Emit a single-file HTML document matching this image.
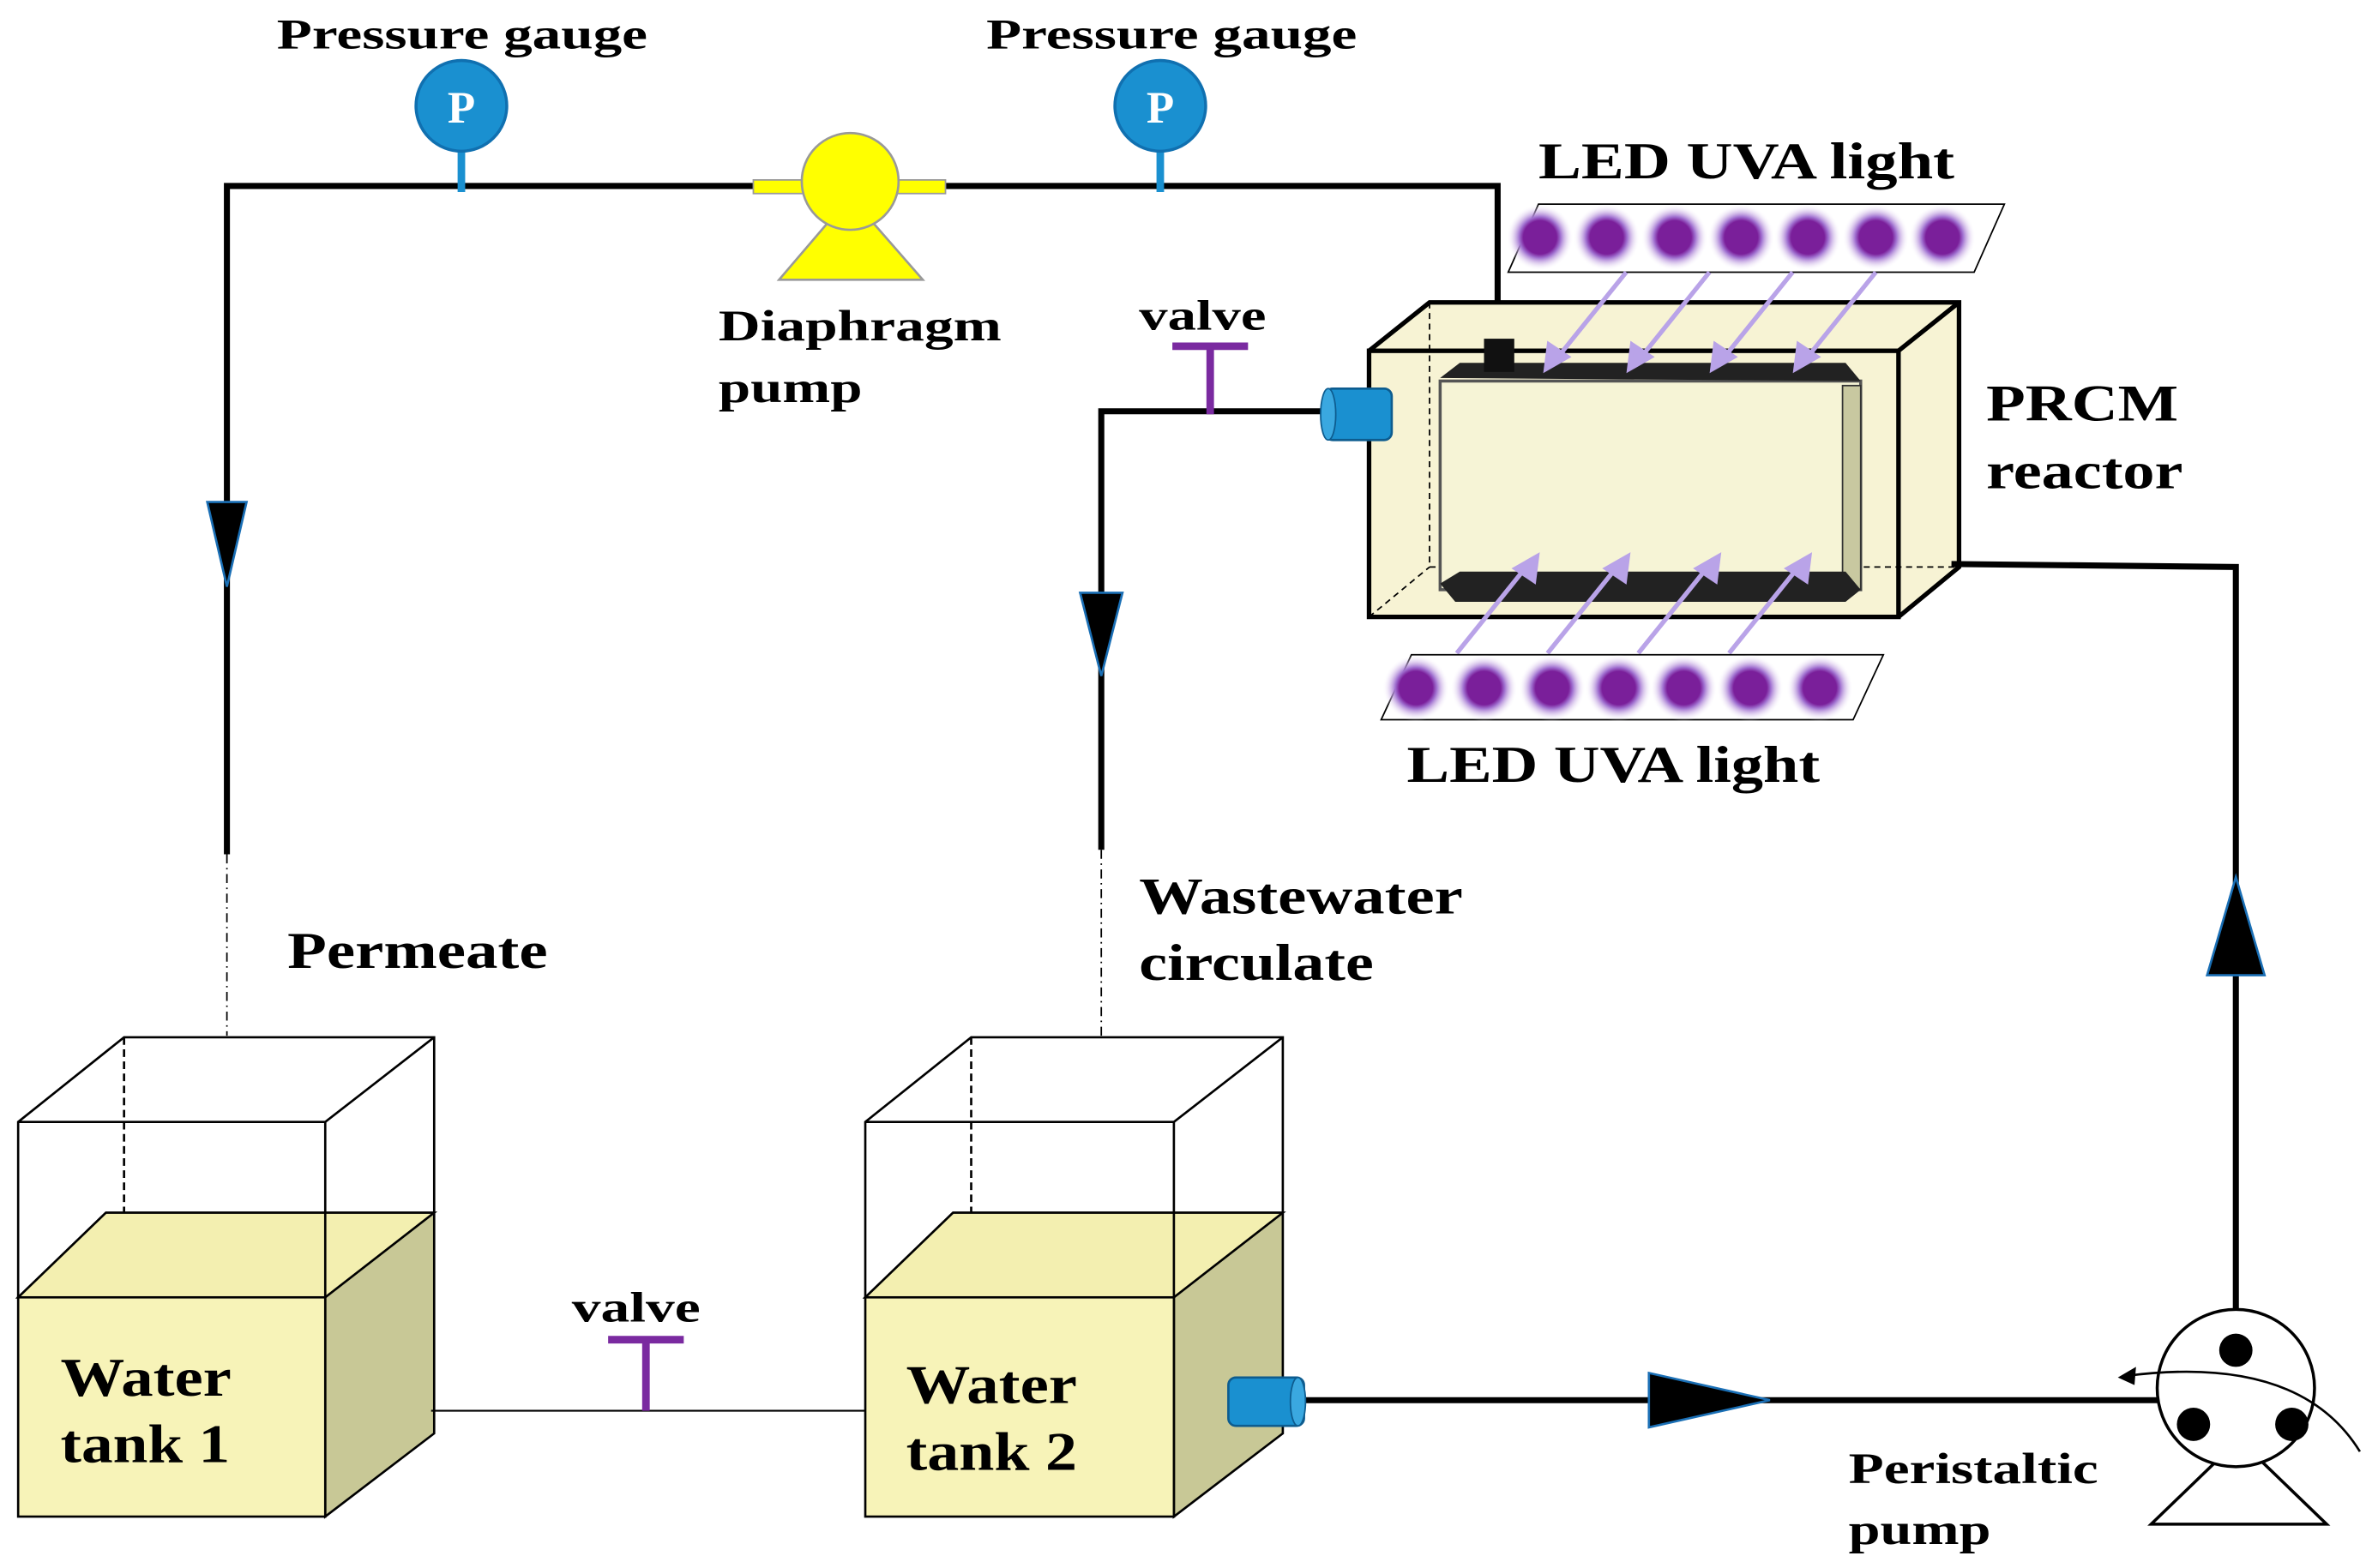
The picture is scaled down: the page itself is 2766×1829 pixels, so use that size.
<!DOCTYPE html>
<html><head><meta charset="utf-8"><style>
html,body{margin:0;padding:0;background:#fff;}
svg{display:block;}
text{font-family:"Liberation Serif",serif;font-weight:bold;fill:#000;}
</style></head><body>
<svg width="2766" height="1829" viewBox="0 0 1568 1037" preserveAspectRatio="none" xmlns="http://www.w3.org/2000/svg">
<defs>
<radialGradient id="led"><stop offset="0.5" stop-color="#7a1f9a"/><stop offset="0.62" stop-color="#a070d0"/><stop offset="1" stop-color="#fff" stop-opacity="0"/></radialGradient>
</defs>
<polyline points="150,565 150,123 990,123 990,228" fill="none" stroke="#000" stroke-width="4"/>
<line x1="150" y1="565" x2="150" y2="685" stroke="#000" stroke-width="1" stroke-dasharray="6,3,1,3"/>
<polygon points="137,332 163,332 150,388" fill="#000" stroke="#1a6fb5" stroke-width="1.5"/>
<g>
<line x1="305" y1="95" x2="305" y2="127" stroke="#1a90d0" stroke-width="5"/>
<circle cx="305" cy="70" r="30" fill="#1a90d0" stroke="#1070b0" stroke-width="2"/>
<text x="305" y="81" font-size="30" text-anchor="middle" style="fill:#fff">P</text>
<line x1="767" y1="95" x2="767" y2="127" stroke="#1a90d0" stroke-width="5"/>
<circle cx="767" cy="70" r="30" fill="#1a90d0" stroke="#1070b0" stroke-width="2"/>
<text x="767" y="81" font-size="30" text-anchor="middle" style="fill:#fff">P</text>
</g>
<text x="183" y="32" font-size="28" textLength="245" lengthAdjust="spacingAndGlyphs">Pressure gauge</text>
<text x="652" y="32" font-size="28" textLength="245" lengthAdjust="spacingAndGlyphs">Pressure gauge</text>
<polygon points="515,185 610,185 562,130" fill="#ffff00" stroke="#999" stroke-width="1.5"/>
<rect x="498" y="119" width="127" height="9" fill="#ffff00" stroke="#999" stroke-width="1"/>
<circle cx="562" cy="120" r="32" fill="#ffff00" stroke="#999" stroke-width="1.5"/>
<text x="475" y="225" font-size="29" textLength="187" lengthAdjust="spacingAndGlyphs">Diaphragm</text>
<text x="475" y="266" font-size="29" textLength="95" lengthAdjust="spacingAndGlyphs">pump</text>
<polygon points="997,180 1017,135 1325,135 1305,180" fill="#fff" stroke="#000" stroke-width="1"/>
<g fill="url(#led)">
<circle cx="1018" cy="157" r="22"/><circle cx="1062" cy="157" r="22"/><circle cx="1107" cy="157" r="22"/><circle cx="1151" cy="157" r="22"/><circle cx="1195" cy="157" r="22"/><circle cx="1240" cy="157" r="22"/><circle cx="1284" cy="157" r="22"/>
</g>
<text x="1017" y="118" font-size="34" textLength="275" lengthAdjust="spacingAndGlyphs">LED UVA light</text>
<polygon points="905,232 945,200 1295,200 1295,375 1255,408 905,408" fill="#f7f3d4"/>
<polyline points="905,232 945,200 1295,200 1295,375 1255,408" fill="none" stroke="#000" stroke-width="3"/>
<line x1="1255" y1="232" x2="1295" y2="200" stroke="#000" stroke-width="3"/>
<line x1="945" y1="200" x2="945" y2="375" stroke="#000" stroke-width="1" stroke-dasharray="4,3"/>
<line x1="945" y1="375" x2="1295" y2="375" stroke="#000" stroke-width="1" stroke-dasharray="4,3"/>
<line x1="905" y1="408" x2="945" y2="375" stroke="#000" stroke-width="1" stroke-dasharray="4,3"/>
<rect x="905" y="232" width="350" height="176" fill="none" stroke="#000" stroke-width="3"/>
<rect x="952" y="252" width="278" height="138" fill="#f6f4d6" stroke="#555" stroke-width="2"/>
<polygon points="1218,255 1230,255 1230,390 1218,385" fill="#c8c8a0" stroke="#333" stroke-width="1"/>
<polygon points="952,250 965,240 1220,240 1230,252" fill="#222"/>
<polygon points="952,386 965,378 1220,378 1230,390 1220,398 962,398" fill="#222"/>
<rect x="981" y="224" width="20" height="22" fill="#111"/>
<g stroke="#b9a3e8" stroke-width="3" fill="#b9a3e8">
<line x1="1075" y1="180" x2="1030" y2="236"/><polygon points="1022,244 1024,228 1036,236"/>
<line x1="1130" y1="180" x2="1085" y2="236"/><polygon points="1077,244 1079,228 1091,236"/>
<line x1="1185" y1="180" x2="1140" y2="236"/><polygon points="1132,244 1134,228 1146,236"/>
<line x1="1240" y1="180" x2="1195" y2="236"/><polygon points="1187,244 1189,228 1201,236"/>
<line x1="963" y1="432" x2="1008" y2="376"/><polygon points="1016,368 1014,384 1002,376"/>
<line x1="1023" y1="432" x2="1068" y2="376"/><polygon points="1076,368 1074,384 1062,376"/>
<line x1="1083" y1="432" x2="1128" y2="376"/><polygon points="1136,368 1134,384 1122,376"/>
<line x1="1143" y1="432" x2="1188" y2="376"/><polygon points="1196,368 1194,384 1182,376"/>
</g>
<text x="1313" y="278" font-size="34" textLength="127" lengthAdjust="spacingAndGlyphs">PRCM</text>
<text x="1313" y="323" font-size="34" textLength="130" lengthAdjust="spacingAndGlyphs">reactor</text>
<polygon points="913,476 933,433 1245,433 1225,476" fill="#fff" stroke="#000" stroke-width="1"/>
<g fill="url(#led)">
<circle cx="936" cy="455" r="22"/><circle cx="981" cy="455" r="22"/><circle cx="1026" cy="455" r="22"/><circle cx="1070" cy="455" r="22"/><circle cx="1113" cy="455" r="22"/><circle cx="1157" cy="455" r="22"/><circle cx="1203" cy="455" r="22"/>
</g>
<text x="930" y="517" font-size="34" textLength="273" lengthAdjust="spacingAndGlyphs">LED UVA light</text>
<polyline points="728,562 728,272 880,272" fill="none" stroke="#000" stroke-width="4"/>
<line x1="728" y1="562" x2="728" y2="685" stroke="#000" stroke-width="1" stroke-dasharray="6,3,1,3"/>
<polygon points="714,392 742,392 728,447" fill="#000" stroke="#1a6fb5" stroke-width="1.5"/>
<line x1="775" y1="229" x2="825" y2="229" stroke="#7a2aa0" stroke-width="5"/>
<line x1="800" y1="229" x2="800" y2="274" stroke="#7a2aa0" stroke-width="5"/>
<text x="753" y="218" font-size="28" textLength="84" lengthAdjust="spacingAndGlyphs">valve</text>
<rect x="876" y="257" width="44" height="34" rx="5" fill="#1a90d0" stroke="#0d5c8f" stroke-width="1.5"/>
<ellipse cx="878" cy="274" rx="5" ry="17" fill="#3aa8e0" stroke="#0d5c8f" stroke-width="1"/>
<text x="753" y="604" font-size="34" textLength="214" lengthAdjust="spacingAndGlyphs">Wastewater</text>
<text x="753" y="648" font-size="34" textLength="155" lengthAdjust="spacingAndGlyphs">circulate</text>
<text x="190" y="640" font-size="34" textLength="172" lengthAdjust="spacingAndGlyphs">Permeate</text>
<polyline points="1290,373 1478,375 1478,890" fill="none" stroke="#000" stroke-width="4"/>
<polygon points="1459,645 1497,645 1478,580" fill="#000" stroke="#1a6fb5" stroke-width="1.5"/>
<g stroke="#000" stroke-width="1.5">
<polygon points="12,858 70,802 287,802 287,948 215,1003 215,858" fill="#c8c896"/>
<polygon points="12,858 70,802 287,802 215,858" fill="#f3efb0"/>
<rect x="12" y="858" width="203" height="145" fill="#f7f3b8"/>
<polyline points="12,858 12,742 82,686 287,686 287,802" fill="none"/>
<polyline points="12,742 215,742 287,686" fill="none"/>
<line x1="215" y1="742" x2="215" y2="858"/>
<line x1="82" y1="686" x2="82" y2="802" stroke-dasharray="5,3"/>
</g>
<text x="40" y="923" font-size="36" textLength="113" lengthAdjust="spacingAndGlyphs">Water</text>
<text x="40" y="967" font-size="36" textLength="112" lengthAdjust="spacingAndGlyphs">tank 1</text>
<g stroke="#000" stroke-width="1.5">
<polygon points="572,858 630,802 848,802 848,948 776,1003 776,858" fill="#c8c896"/>
<polygon points="572,858 630,802 848,802 776,858" fill="#f3efb0"/>
<rect x="572" y="858" width="204" height="145" fill="#f7f3b8"/>
<polyline points="572,858 572,742 642,686 848,686 848,802" fill="none"/>
<polyline points="572,742 776,742 848,686" fill="none"/>
<line x1="776" y1="742" x2="776" y2="858"/>
<line x1="642" y1="686" x2="642" y2="802" stroke-dasharray="5,3"/>
</g>
<text x="599" y="928" font-size="36" textLength="113" lengthAdjust="spacingAndGlyphs">Water</text>
<text x="599" y="972" font-size="36" textLength="113" lengthAdjust="spacingAndGlyphs">tank 2</text>
<line x1="285" y1="933" x2="572" y2="933" stroke="#000" stroke-width="1.2"/>
<line x1="402" y1="886" x2="452" y2="886" stroke="#7a2aa0" stroke-width="5"/>
<line x1="427" y1="886" x2="427" y2="933" stroke="#7a2aa0" stroke-width="5"/>
<text x="378" y="874" font-size="28" textLength="85" lengthAdjust="spacingAndGlyphs">valve</text>
<line x1="860" y1="926" x2="1428" y2="926" stroke="#000" stroke-width="4"/>
<polygon points="1090,908 1090,944 1170,926" fill="#000" stroke="#1a6fb5" stroke-width="1.5"/>
<rect x="812" y="911" width="50" height="32" rx="5" fill="#1a90d0" stroke="#0d5c8f" stroke-width="1.5"/>
<ellipse cx="858" cy="927" rx="5" ry="16" fill="#3aa8e0" stroke="#0d5c8f" stroke-width="1"/>
<polygon points="1422,1008 1538,1008 1480,952" fill="#fff" stroke="#000" stroke-width="2"/>
<circle cx="1478" cy="918" r="52" fill="#fff" stroke="#000" stroke-width="2"/>
<circle cx="1478" cy="893" r="11" fill="#000"/>
<circle cx="1450" cy="942" r="11" fill="#000"/>
<circle cx="1515" cy="942" r="11" fill="#000"/>
<path d="M1560,960 Q1520,895 1405,910" fill="none" stroke="#000" stroke-width="1.5"/>
<polygon points="1400,911 1412,904 1411,916" fill="#000"/>
<text x="1222" y="981" font-size="29" textLength="165" lengthAdjust="spacingAndGlyphs">Peristaltic</text>
<text x="1222" y="1021" font-size="29" textLength="94" lengthAdjust="spacingAndGlyphs">pump</text>
</svg>
</body></html>
